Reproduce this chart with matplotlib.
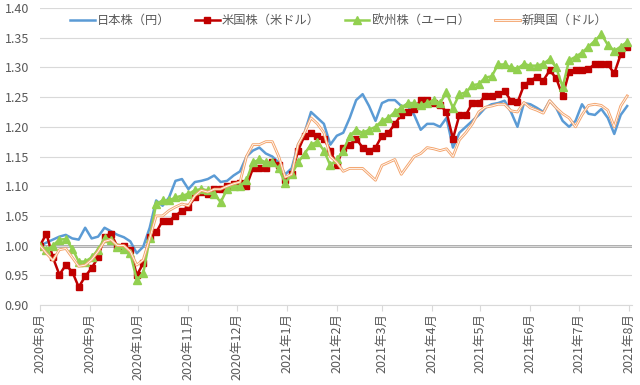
import matplotlib
matplotlib.use('Agg')
import matplotlib.pyplot as plt
import matplotlib.dates as mdates
import matplotlib.patheffects as pe
import pandas as pd

# sample dates (every 4 days)
dates = pd.date_range("2020-08-01", periods=92, freq="4D")

japan = [1.000, 1.005, 1.010, 1.015, 1.018, 1.012, 1.010, 1.030, 1.012, 1.015,
         1.030, 1.024, 1.018, 1.014, 1.007, 0.987, 0.998, 1.030, 1.076, 1.067,
         1.081, 1.109, 1.112, 1.095, 1.107, 1.109, 1.112, 1.118, 1.107, 1.109,
         1.118, 1.125, 1.150, 1.160, 1.165, 1.155, 1.150, 1.140, 1.120, 1.130,
         1.170, 1.190, 1.225, 1.215, 1.205, 1.170, 1.185, 1.190, 1.215, 1.245,
         1.255, 1.235, 1.210, 1.240, 1.245, 1.245, 1.235, 1.235, 1.220, 1.195,
         1.205, 1.205, 1.200, 1.215, 1.165, 1.190, 1.200, 1.210, 1.220, 1.232,
         1.238, 1.240, 1.244, 1.225, 1.200, 1.240, 1.238, 1.232, 1.225, 1.244,
         1.232, 1.210, 1.200, 1.210, 1.238, 1.222, 1.220, 1.230, 1.215, 1.188,
         1.220, 1.235]

usa = [1.000, 1.020, 0.980, 0.951, 0.967, 0.956, 0.930, 0.948, 0.962, 0.980,
       1.015, 1.020, 0.998, 1.000, 0.993, 0.950, 0.970, 1.015, 1.022, 1.042,
       1.042, 1.050, 1.059, 1.065, 1.081, 1.090, 1.087, 1.095, 1.095, 1.101,
       1.104, 1.105, 1.100, 1.130, 1.130, 1.130, 1.140, 1.135, 1.110, 1.120,
       1.160, 1.185, 1.190, 1.185, 1.180, 1.160, 1.135, 1.165, 1.170, 1.180,
       1.165, 1.160, 1.165, 1.185, 1.190, 1.205, 1.220, 1.225, 1.230, 1.245,
       1.245, 1.240, 1.237, 1.225, 1.180, 1.220, 1.220, 1.240, 1.240, 1.252,
       1.252, 1.255, 1.260, 1.244, 1.241, 1.270, 1.278, 1.284, 1.278, 1.295,
       1.282, 1.252, 1.292, 1.295, 1.296, 1.297, 1.306, 1.306, 1.305, 1.290,
       1.322, 1.335]

europe = [1.000, 0.993, 1.000, 1.010, 1.011, 0.995, 0.973, 0.973, 0.980, 0.993,
          1.012, 1.010, 0.998, 0.995, 0.987, 0.942, 0.953, 1.012, 1.070, 1.076,
          1.076, 1.081, 1.084, 1.087, 1.093, 1.095, 1.093, 1.087, 1.073, 1.095,
          1.101, 1.100, 1.110, 1.140, 1.145, 1.140, 1.140, 1.130, 1.105, 1.120,
          1.140, 1.155, 1.170, 1.175, 1.160, 1.135, 1.145, 1.160, 1.185, 1.195,
          1.190, 1.195, 1.200, 1.210, 1.215, 1.225, 1.232, 1.240, 1.240, 1.236,
          1.240, 1.245, 1.240, 1.258, 1.232, 1.255, 1.258, 1.270, 1.272, 1.283,
          1.285, 1.305, 1.305, 1.300, 1.298, 1.306, 1.303, 1.303, 1.306, 1.314,
          1.300, 1.267, 1.312, 1.318, 1.325, 1.335, 1.345, 1.356, 1.338, 1.328,
          1.335, 1.343]

emerging = [1.000, 0.987, 0.975, 0.993, 0.995, 0.980, 0.965, 0.967, 0.976, 0.990,
            1.007, 1.010, 1.000, 1.000, 0.990, 0.967, 0.976, 1.012, 1.050, 1.050,
            1.059, 1.065, 1.070, 1.067, 1.084, 1.093, 1.090, 1.095, 1.095, 1.100,
            1.104, 1.107, 1.150, 1.170, 1.170, 1.175, 1.175, 1.150, 1.115, 1.120,
            1.170, 1.190, 1.215, 1.205, 1.190, 1.150, 1.140, 1.125, 1.130, 1.130,
            1.130, 1.120, 1.110, 1.135, 1.140, 1.145, 1.120, 1.135, 1.150, 1.155,
            1.165, 1.163, 1.160, 1.163, 1.150, 1.178, 1.190, 1.205, 1.225, 1.233,
            1.235, 1.238, 1.238, 1.227, 1.225, 1.241, 1.232, 1.228, 1.223, 1.244,
            1.232, 1.222, 1.215, 1.200, 1.220, 1.236, 1.238, 1.236, 1.228, 1.200,
            1.235, 1.252]

labels = ["日本株（円）", "米国株（米ドル）", "欧州株（ユーロ）", "新興国（ドル）"]

plt.rcParams['font.family'] = ['Noto Sans CJK JP', 'DejaVu Sans']
txt = '#595959'

fig = plt.figure(figsize=(6.4, 3.85), dpi=100)
ax = fig.add_axes([0.0625, 0.208, 0.925, 0.771])

ax.axhline(1.0, color='#A5A5A5', lw=2, zorder=1.5)

lines = []
lines += ax.plot(dates, japan, color='#5B9BD5', lw=1.8, zorder=2)
lines += ax.plot(dates, usa, color='#C00000', lw=1.8, marker='s', ms=5,
                 mec='#C00000', zorder=3)
lines += ax.plot(dates, europe, color='#92D050', lw=1.8, marker='^', ms=5.5,
                 mec='#92D050', zorder=4)
lines += ax.plot(dates, emerging, color='white', lw=0.6, zorder=5,
                 path_effects=[pe.Stroke(linewidth=2.0, foreground='#F4A56E'), pe.Normal()])

ax.set_ylim(0.90, 1.40)
ax.set_yticks([0.90 + 0.05 * i for i in range(11)])
ax.yaxis.set_major_formatter(matplotlib.ticker.FormatStrFormatter('%.2f'))
ax.set_xlim(pd.Timestamp("2020-08-01"), pd.Timestamp("2021-08-03"))

ax.xaxis.set_major_locator(mdates.MonthLocator())
ax.xaxis.set_major_formatter(
    matplotlib.ticker.FuncFormatter(lambda v, p: "{0.year}年{0.month}月".format(mdates.num2date(v))))

ax.grid(axis='y', color='#D9D9D9', lw=0.8, zorder=0)
for s in ['top', 'right', 'left']:
    ax.spines[s].set_visible(False)
ax.spines['bottom'].set_color('#D9D9D9')
ax.tick_params(axis='y', length=0, labelsize=9, labelcolor=txt, pad=8)
ax.tick_params(axis='x', length=4, color='#D9D9D9', labelsize=9,
               labelcolor=txt, labelrotation=90, pad=2)

# one legend box per entry so each sits where the reference has it
legend_x = [0.051, 0.262, 0.515, 0.769]
legs = []
for line, lab, lx in zip(lines, labels, legend_x):
    leg = ax.legend([line], [lab], loc='upper left', bbox_to_anchor=(lx, 0.98),
                    frameon=False, fontsize=8.8, handlelength=2.0, handletextpad=0.2,
                    borderpad=0, borderaxespad=0, labelcolor=txt)
    legs.append(leg)
for leg in legs[:-1]:
    ax.add_artist(leg)

fig.savefig("out.png", dpi=100)
